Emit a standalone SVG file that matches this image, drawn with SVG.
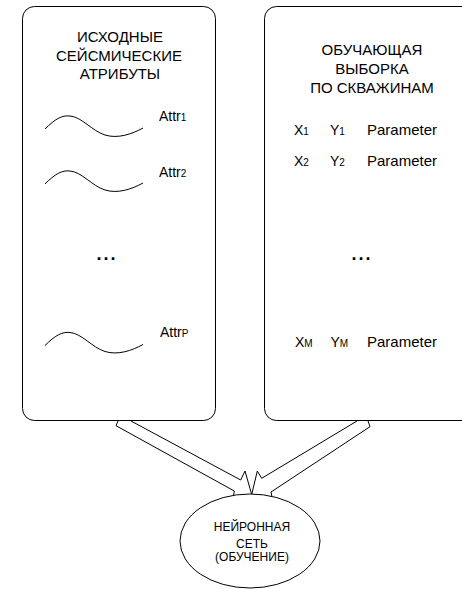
<svg xmlns="http://www.w3.org/2000/svg" width="462" height="589" viewBox="0 0 462 589">
<style>
.box{fill:#fff;stroke:#000;stroke-width:1}
.ln{fill:none;stroke:#000;stroke-width:1;stroke-linejoin:miter}
.wave{fill:none;stroke:#000;stroke-width:1}
text{font-family:"Liberation Sans",Arial,sans-serif;fill:#000}
.t{font-size:15px;text-anchor:middle}
.a{font-size:14px}
.p{font-size:15px}
.s{font-size:10px}
.d{font-size:18px;font-weight:bold;letter-spacing:2px;text-anchor:middle}
.e{font-size:12px;text-anchor:middle}
</style>
<rect width="462" height="589" fill="#fff"/>
<g id="connectors">
<path class="ln" d="M118,421 L116,425.7 L234.3,491 L233.3,497"/>
<path class="ln" d="M131,421 L240.7,480 L245,471 L251.7,494.5 L257.3,471 L261.7,478.3 L357,421"/>
<path class="ln" d="M368,421 L370,426.7 L271,492 L272,497"/>
</g>
<g id="seismic-attributes">
<rect class="box" x="22.5" y="6.5" width="193" height="414" rx="12"/>
<text class="t" x="120" y="42">ИСХОДНЫЕ</text>
<text class="t" x="119" y="61">СЕЙСМИЧЕСКИЕ</text>
<text class="t" x="120" y="79">АТРИБУТЫ</text>
<path class="wave" d="M45,129 C55,119 62,115 70,116 C82,117 92,131 105,135 C118,139 132,134 143,128"/>
<text class="a" x="159" y="121">Attr<tspan class="s">1</tspan></text>
<path class="wave" d="M45,184 C55,174 62,170 70,171 C82,172 92,186 105,190 C118,194 132,189 143,183"/>
<text class="a" x="159" y="177">Attr<tspan class="s">2</tspan></text>
<text class="d" x="107" y="260">...</text>
<path class="wave" d="M45,345.5 C55,335.5 62,331.5 70,332.5 C82,333.5 92,347.5 105,351.5 C118,355.5 132,350.5 143,344.5"/>
<text class="a" x="160" y="337">Attr<tspan class="s">P</tspan></text>
</g>
<g id="training-set">
<rect class="box" x="264.5" y="6.5" width="215" height="414" rx="12"/>
<text class="t" x="372" y="55">ОБУЧАЮЩАЯ</text>
<text class="t" x="372" y="73.5">ВЫБОРКА</text>
<text class="t" x="372" y="92.5">ПО СКВАЖИНАМ</text>
<text class="a" x="294" y="135">X<tspan class="s">1</tspan></text>
<text class="a" x="330" y="135">Y<tspan class="s">1</tspan></text>
<text class="p" x="367" y="135">Parameter</text>
<text class="a" x="294" y="165.5">X<tspan class="s">2</tspan></text>
<text class="a" x="330" y="165.5">Y<tspan class="s">2</tspan></text>
<text class="p" x="367" y="165.5">Parameter</text>
<text class="d" x="362" y="260">...</text>
<text class="a" x="295" y="346.5">X<tspan class="s">M</tspan></text>
<text class="a" x="330.5" y="346.5">Y<tspan class="s">M</tspan></text>
<text class="p" x="367" y="346.5">Parameter</text>
</g>
<g id="neural-network">
<ellipse class="box" cx="250" cy="541" rx="70" ry="47"/>
<text class="e" x="252" y="531">НЕЙРОННАЯ</text>
<text class="e" x="252" y="548">СЕТЬ</text>
<text class="e" x="252" y="561">(ОБУЧЕНИЕ)</text>
</g>
</svg>
